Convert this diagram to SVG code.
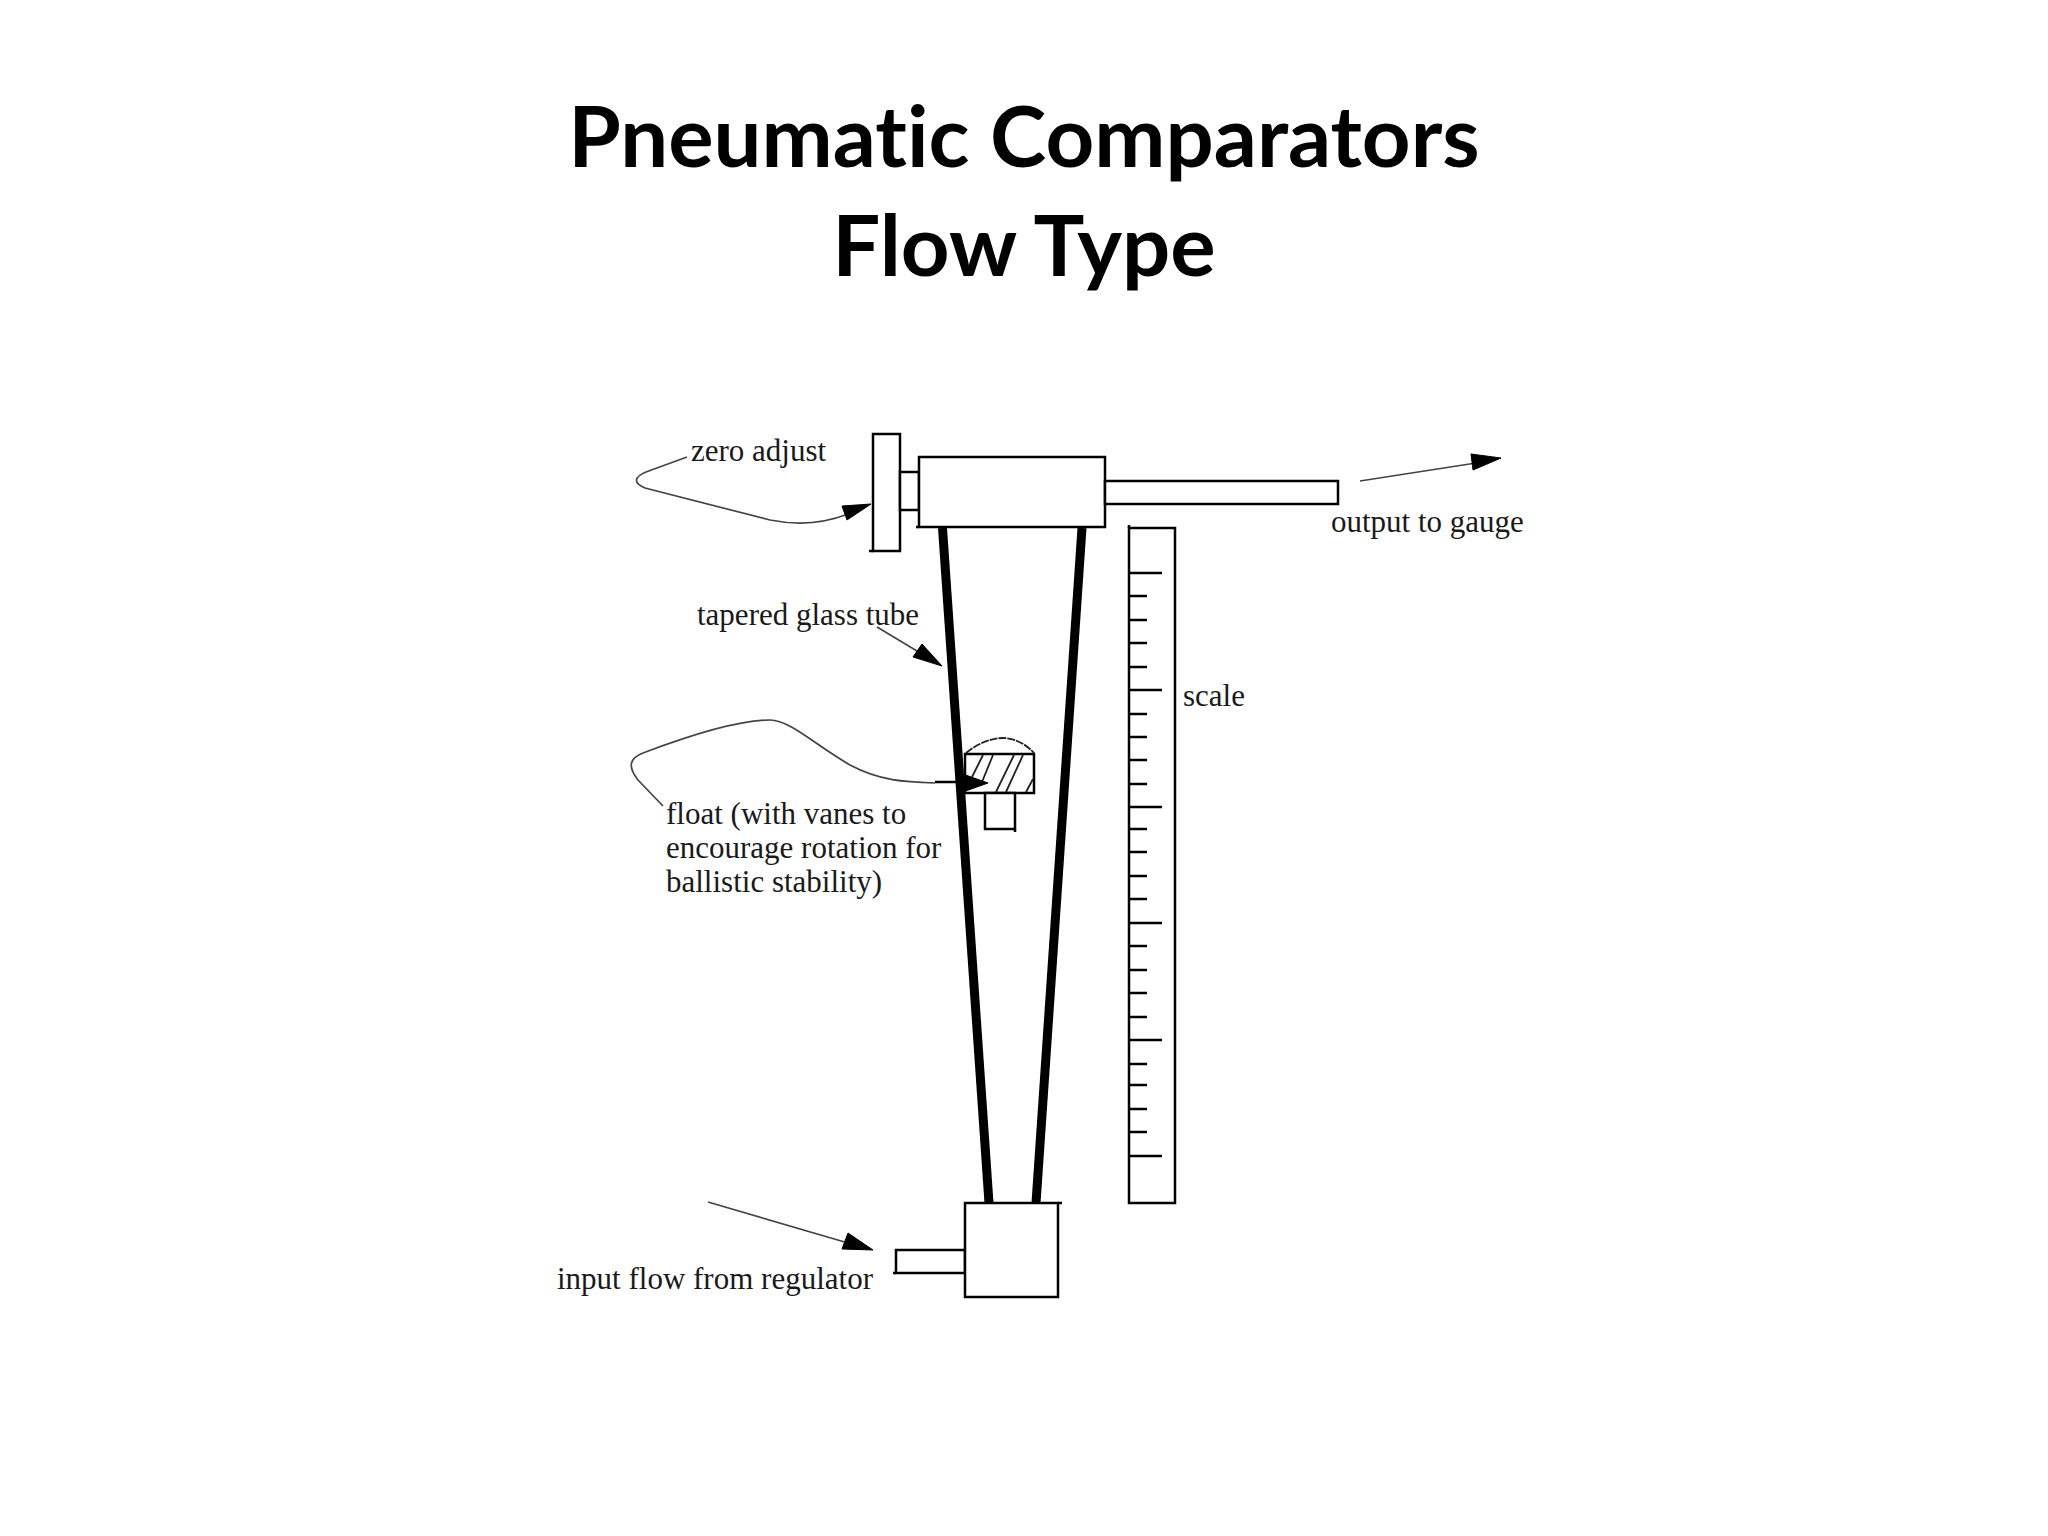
<svg xmlns="http://www.w3.org/2000/svg" width="2048" height="1536" viewBox="0 0 2048 1536">
<style>
.t{font-family:"Lato","Liberation Sans",sans-serif;font-weight:700;font-size:85px;font-variant-ligatures:none;fill:#000;text-anchor:middle}
.l{font-family:"Liberation Serif","Times New Roman",serif;font-size:31px;fill:#1a1a1a}
.b{fill:#fff;stroke:#000;stroke-width:2.5}
.o{fill:none;stroke:#000;stroke-width:2.5}
.w{fill:none;stroke:#000;stroke-width:9}
.c{fill:none;stroke:#444;stroke-width:1.7}
.a{fill:#000;stroke:#000;stroke-width:1}
.h{fill:none;stroke:#222;stroke-width:1.8}
</style>
<rect width="2048" height="1536" fill="#fff"/>
<g id="title">
<text class="t" x="1024" y="167">Pneumatic Comparators</text>
<text class="t" x="1024" y="276">Flow Type</text>
</g>
<g id="tube">
<line class="w" x1="942.500" y1="528" x2="989" y2="1203"/>
<line class="w" x1="1082" y1="528" x2="1036" y2="1203"/>
</g>
<g id="zero-adjust">
<rect class="b" x="873" y="434" width="27" height="117"/>
<rect class="b" x="900" y="472" width="19" height="38"/>
<path class="o" d="M869 551H873"/>
</g>
<g id="head">
<rect class="b" x="919" y="457" width="186" height="70"/>
<path class="o" d="M916 527H919"/>
</g>
<g id="output-pipe"><rect class="b" x="1105" y="481" width="233" height="23"/></g>
<g id="float">
<path class="h" stroke-dasharray="8 1" d="M966 753 C978 743 992 738 1003 738 C1014 738 1026 744 1034 753"/>
<rect class="b" x="965" y="754" width="69" height="39"/>
<path class="h" d="M983 755 L972 777 M993 755 L982 782 M1014 755 L996 792 M1023 755 L1006 792 M1033 779 L1026 792"/>
<rect class="b" x="985" y="793" width="30" height="36"/>
<path class="o" d="M1015 829V832"/>
</g>
<g id="scale">
<rect class="b" x="1129" y="528" width="46" height="675"/>
<path class="o" d="M1129 525V528M1129 573H1162M1129 596H1147M1129 620H1147M1129 643H1147M1129 667H1147M1129 690H1162M1129 714H1147M1129 737H1147M1129 760H1147M1129 784H1147M1129 807H1162M1129 829H1147M1129 852H1147M1129 876H1147M1129 899H1147M1129 923H1162M1129 946H1147M1129 970H1147M1129 993H1147M1129 1017H1147M1129 1040H1162M1129 1064H1147M1129 1085H1147M1129 1109H1147M1129 1132H1147M1129 1156H1162"/>
</g>
<g id="input-block">
<rect class="b" x="896" y="1250" width="69" height="23"/>
<rect class="b" x="965" y="1203" width="93" height="94"/>
<path class="o" d="M893 1273H896M1058 1203H1062"/>
</g>
<g id="connectors">
<path class="c" d="M687 457 L646 472 C634 477 633 483 645 488 L770 520 C800 526 825 523 848 514"/>
<path class="a" d="M871 504 L842 506 L847 520 Z"/>
<path class="c" d="M877 627 L922 654"/>
<path class="a" d="M942 666 L922 644 L913 657 Z"/>
<path class="c" d="M663 806 L638 780 C627 766 630 758 643 753 C680 739 735 720 770 720 C790 720 815 745 850 765 C880 781 905 782 935 783"/>
<path class="o" d="M935 782 H965"/>
<path class="a" d="M988 783 L960 773 L960 793 Z"/>
<path class="c" d="M1360 481 L1476 463"/>
<path class="a" d="M1501 458 L1471 454 L1473 470 Z"/>
<path class="c" d="M708 1202 L848 1243"/>
<path class="a" d="M873 1250 L848 1233 L842 1249 Z"/>
</g>
<g id="labels">
<text class="l" x="691" y="461">zero adjust</text>
<text class="l" x="697" y="625">tapered glass tube</text>
<text class="l" x="1331" y="532">output to gauge</text>
<text class="l" x="1183" y="706">scale</text>
<text class="l" x="666" y="824">float (with vanes to</text>
<text class="l" x="666" y="858">encourage rotation for</text>
<text class="l" x="666" y="892">ballistic stability)</text>
<text class="l" x="557" y="1289">input flow from regulator</text>
</g>
</svg>
